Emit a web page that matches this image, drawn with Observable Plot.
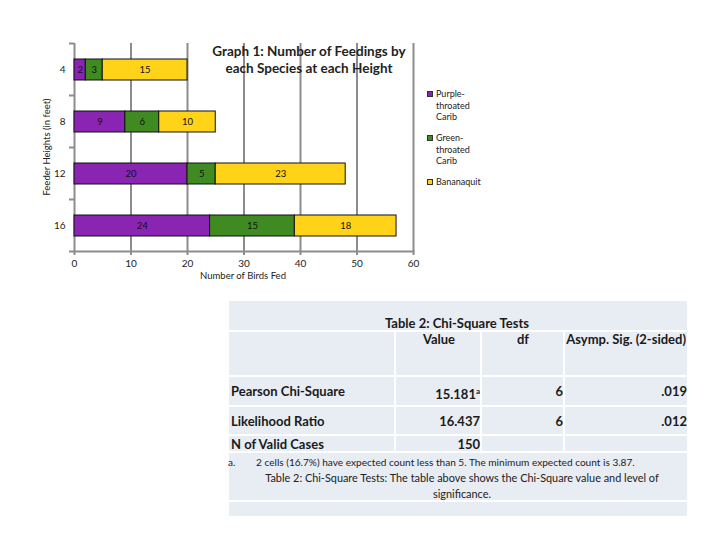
<!DOCTYPE html>
<html><head><meta charset="utf-8">
<script src="https://cdn.jsdelivr.net/npm/d3@7"></script>
<script src="https://cdn.jsdelivr.net/npm/@observablehq/plot@0.6"></script>
<style>
body{margin:0;background:#fff;font-family:Lato,"Open Sans",sans-serif;}
#wrap{position:relative;width:720px;height:540px;overflow:hidden;}
#wrap svg{position:absolute;left:0;top:0;}
.t{position:absolute;white-space:nowrap;color:#222;}
</style></head><body><div id="wrap"></div>
<script>
// ---- data ----
const heights = [4, 8, 12, 16];
const species = ["Purple-throated Carib", "Green-throated Carib", "Bananaquit"];
const purpleCounts = [2, 9, 20, 24];
const greenCounts = [3, 6, 5, 15];
const bananaquitCounts = [15, 10, 23, 18];
const speciesColors = ["#8a24b3", "#3f8b22", "#ffd318"];
const xTicks = [0, 10, 20, 30, 40, 50, 60];
const legendLines = [["Purple-", "throated", "Carib"], ["Green-", "throated", "Carib"], ["Bananaquit"]];
const chartTitle = ["Graph 1: Number of Feedings by", "each Species at each Height"];
const xLabel = "Number of Birds Fed";
const yLabel = "Feeder Heights (in feet)";

const tableTitle = "Table 2: Chi-Square Tests";
const tableHeaders = ["Value", "df", "Asymp. Sig. (2-sided)"];
const rowLabels = ["Pearson Chi-Square", "Likelihood Ratio", "N of Valid Cases"];
const rowValues = ["15.181", "16.437", "150"];
const rowValueSup = ["a", "", ""];
const rowDf = ["6", "6", ""];
const rowSig = [".019", ".012", ""];
const footMark = "a.";
const footnote = "2 cells (16.7%) have expected count less than 5. The minimum expected count is 3.87.";
const captionLines = ["Table 2: Chi-Square Tests: The table above shows the Chi-Square value and level of", "significance."];

const seriesCounts = [purpleCounts, greenCounts, bananaquitCounts];
const data = heights.flatMap((h, i) => species.map((s, j) => ({height: h, species: s, count: seriesCounts[j][i]})));

const grid = "#8c8c8c";
const wrap = document.getElementById("wrap");

const chart = Plot.plot({
  width: 720, height: 290,
  marginLeft: 74, marginRight: 307, marginTop: 43, marginBottom: 39,
  style: {fontFamily: "Lato, sans-serif", fontSize: "10px", color: "#222", background: "transparent", overflow: "visible"},
  x: {domain: [0, 60]},
  y: {domain: heights, paddingInner: 0.6, paddingOuter: 0.3},
  color: {domain: species, range: speciesColors},
  marks: [
    Plot.gridX(xTicks, {stroke: grid, strokeOpacity: 1, strokeWidth: 2}),
    Plot.frame({anchor: "bottom", stroke: grid, strokeWidth: 2}),
    Plot.axisX({ticks: xTicks, tickSize: 4, tickPadding: 4, stroke: grid, strokeWidth: 2, label: null, fontSize: 10}),
    Plot.axisY({tickSize: 0, tickPadding: 9, label: null, fontSize: 10}),
    Plot.barX(data, Plot.stackX({y: "height", x: "count", fill: "species", z: "species", stroke: "#111", strokeWidth: 1, order: species})),
    Plot.text(data, Plot.stackX({y: "height", x: "count", z: "species", text: "count", order: species, fill: "#111", fontSize: 9.5}))
  ]
});
wrap.appendChild(chart);

// boundary ticks on y axis
const ys = chart.scale("y"), xs = chart.scale("x");
const svg = d3.select(chart);
const x0 = xs.apply(0);
const bounds = heights.map(h => ys.apply(h) - (ys.step - ys.bandwidth) / 2);
bounds.push(ys.apply(heights[heights.length - 1]) + ys.bandwidth + (ys.step - ys.bandwidth) / 2);
svg.append("g").selectAll("line").data(bounds).join("line")
  .attr("x1", x0 - 5).attr("x2", x0).attr("y1", d => d).attr("y2", d => d)
  .attr("stroke", grid).attr("stroke-width", 2);

function addText(txt, o) {
  const d = document.createElement("div");
  d.className = "t";
  d.innerHTML = txt;
  const lh = o.lh || 14;
  Object.assign(d.style, {
    top: (o.cy - lh / 2) + "px", lineHeight: lh + "px", height: lh + "px",
    fontSize: (o.size || 10) + "px", fontWeight: o.weight || 400
  });
  if (o.align === "center") { d.style.left = (o.x - 200) + "px"; d.style.width = "400px"; d.style.textAlign = "center"; }
  else if (o.align === "right") { d.style.left = (o.x - 300) + "px"; d.style.width = "300px"; d.style.textAlign = "right"; }
  else d.style.left = o.x + "px";
  if (o.color) d.style.color = o.color;
  wrap.appendChild(d);
  return d;
}
function addBox(l, t, w, h, bg) {
  const d = document.createElement("div");
  Object.assign(d.style, {position: "absolute", left: l + "px", top: t + "px", width: w + "px", height: h + "px", background: bg});
  wrap.appendChild(d);
  return d;
}

// title
chartTitle.forEach((s, i) => addText(s, {x: 309, cy: 51 + i * 16.5, align: "center", size: 13.5, weight: 700}));
// axis labels
addText(xLabel, {x: 243, cy: 276, align: "center", size: 9.5});
const yl = addText(yLabel, {x: 47, cy: 147, align: "center", size: 9.5});
yl.style.transform = "rotate(-90deg)";

// legend
const legendTops = [94, 138, 182];
legendLines.forEach((lines, i) => {
  const b = addBox(427, legendTops[i] - 3.5, 6, 6, speciesColors[i]);
  b.style.border = "1px solid #333"; b.style.boxSizing = "border-box";
  lines.forEach((s, k) => addText(s, {x: 436, cy: legendTops[i] + k * 11.7, size: 9}));
});

// table
const bg = "#e8ecf3";
addBox(229, 301, 458, 215, bg);
[330, 375, 405, 434, 451, 500].forEach(y => addBox(229, y, 458, 2, "#fff"));
[394, 480, 563].forEach(x => addBox(x, 331, 2, 121, "#fff"));
addText(tableTitle, {x: 457, cy: 323, align: "center", size: 13, weight: 700, color: "#1a1a1a"});
addText(tableHeaders[0], {x: 439, cy: 339, align: "center", size: 13, weight: 700, color: "#1a1a1a"});
addText(tableHeaders[1], {x: 523, cy: 339, align: "center", size: 13, weight: 700, color: "#1a1a1a"});
addText(tableHeaders[2], {x: 686, cy: 339, align: "right", size: 13, weight: 700, color: "#1a1a1a"});
const rowY = [391, 421, 444];
rowLabels.forEach((s, i) => {
  addText(s, {x: 231, cy: rowY[i], size: 13, weight: 700, color: "#1a1a1a"});
  addText(rowValues[i] + (rowValueSup[i] ? `<sup style="font-size:8px;vertical-align:5px">${rowValueSup[i]}</sup>` : ""), {x: 480, cy: rowY[i], align: "right", size: 13, weight: 700, color: "#1a1a1a"});
  if (rowDf[i]) addText(rowDf[i], {x: 563, cy: rowY[i], align: "right", size: 13, weight: 700, color: "#1a1a1a"});
  if (rowSig[i]) addText(rowSig[i], {x: 687, cy: rowY[i], align: "right", size: 13, weight: 700, color: "#1a1a1a"});
});
addText(footMark, {x: 228, cy: 462, size: 10});
addText(footnote, {x: 256, cy: 462, size: 10.1});
captionLines.forEach((s, i) => addText(s, {x: 462, cy: 478 + i * 16, align: "center", size: 10.9}));
</script></body></html>
